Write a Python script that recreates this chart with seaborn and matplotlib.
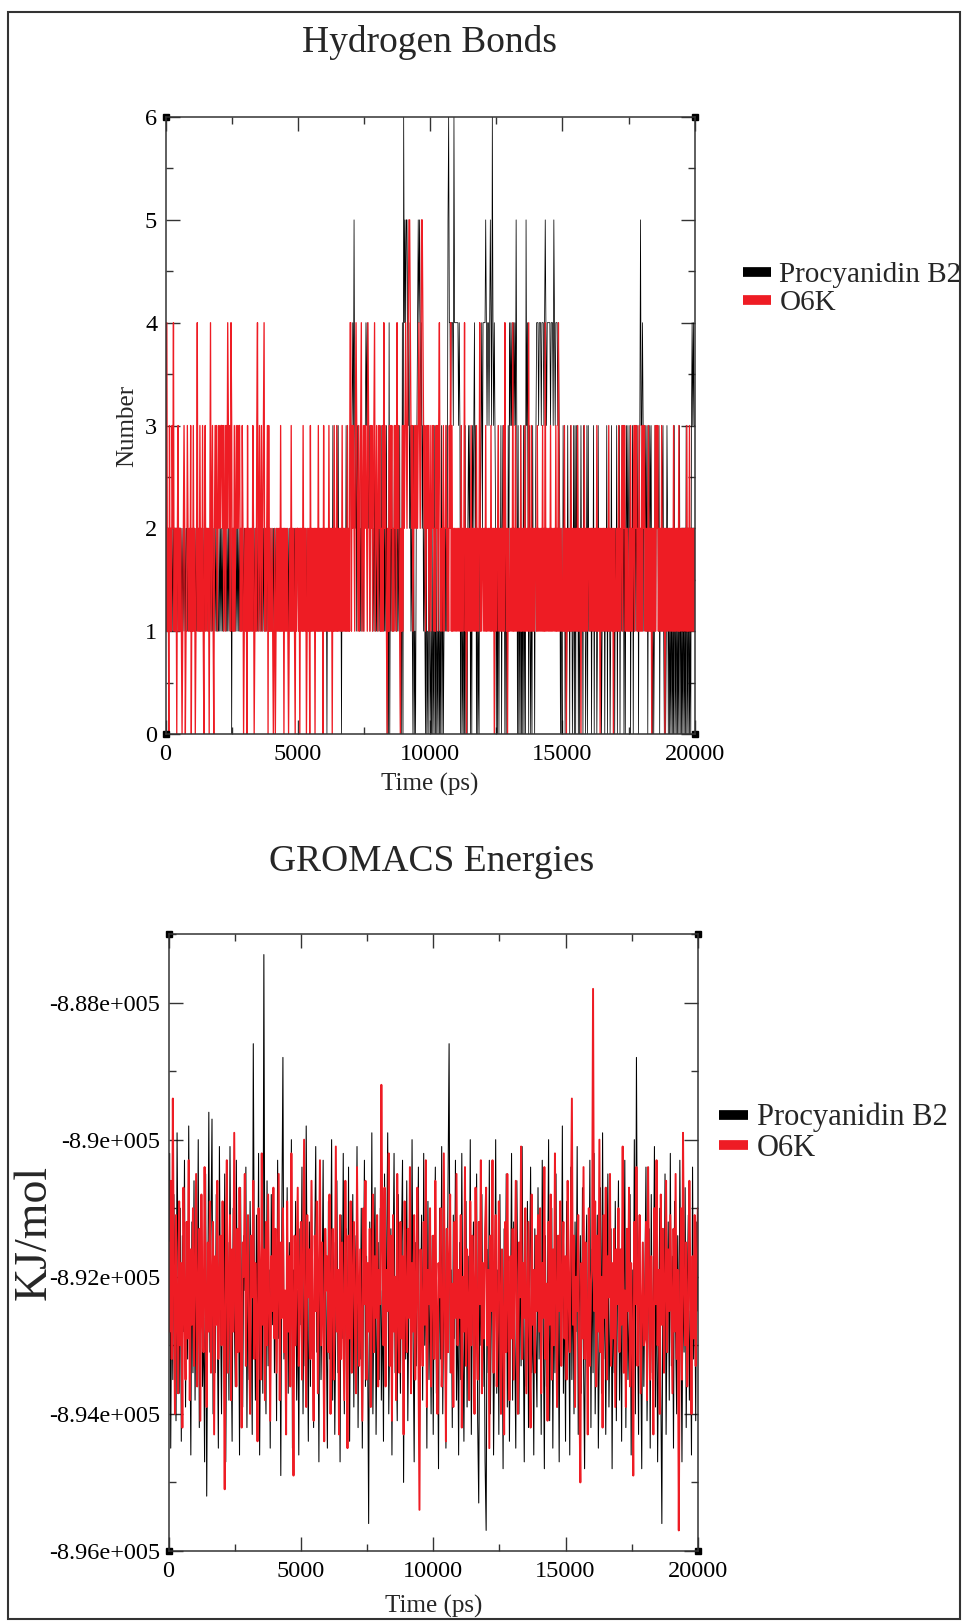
import numpy as np
import pandas as pd
import matplotlib
matplotlib.use("Agg")
import matplotlib.pyplot as plt
import seaborn as sns
from matplotlib.lines import Line2D
from matplotlib.patches import Rectangle
from matplotlib.ticker import MultipleLocator, FuncFormatter

# Hydrogen bond counts, one digit per 25 ps, 40 digits per 1000 ps
hbond_pb2_blocks = [
    "1212121221212121212112121212121221212121", "2121212121212121212121212121212121212121",
    "1212121212121212121202121212121212121212", "2121212121212121212121212121212121212121",
    "1212121212121212121212121212121212121212", "2121212121212121212121212121212121212121",
    "1212021212121312121313121202121213121213", "3234353231323121312132343432313231213121",
    "2131213121312130204021312131213121302040", "6454554342312103010234545434231210301021",
    "0102010302010201030201213125644344436444", "4443430301020301023230203234230201032342",
    "4444543443454364343202030213023120302031", "4343434343530302030203020534203102031202",
    "3444344434443454344444344435434443432020", "0313020131203120130303130201312031201303",
    "1212021302120131212012120213021201312120", "2130213021313030231321302130213131302353",
    "3431323130213231020131323130213231020132", "02010201030102010302010201030102010343433",
]
hbond_o6k_blocks = [
    "4141203121324121202312121012320113212130", "2131201241213121310231221202412310232312",
    "3232332312313243231431213123232331213201", "2120312121213201213412312312341212303121",
    "1210120121212131212021212101213121210212", "2120212131212012120312121202121312121203",
    "1212121312120213121312121213121212131214", "4132321343213123412313232143213231234123",
    "2132312131423210213132312132314232102131", "3234323455432312323232343235543231232312",
    "3123231213231342121231223212132413121212", "1212121312124120212121312121213121241212",
    "2121312121213121202121231212121314212021", "1212141213121212131212131212141213121212",
    "2131212121312141212121312121213121412121", "1213120212121312121212131212021213121212",
    "2121212121213121202121212121213121212021", "1212131212313231212112131212313231213121",
    "3132312121312120212131323121213121202121", "21212121312121213121212121213121312121212",
]

# Energies, in units of 100 kJ/mol, one value per 40 ps (25 per 1000 ps)
energy_pb2 = [
    -8930, -8902, -8945, -8918, -8935, -8908, -8926, -8941, -8899, -8921, -8937, -8910, -8944, -8914, -8928, -8903, -8939, -8919, -8932, -8898, -8925, -8946, -8912, -8934, -8906,
    -8938, -8916, -8929, -8900, -8942, -8920, -8911, -8936, -8926, -8947, -8905, -8952, -8923, -8896, -8931, -8913, -8897, -8940, -8919, -8934, -8908, -8927, -8945, -8901, -8924,
    -8940, -8912, -8933, -8905, -8947, -8921, -8915, -8938, -8901, -8928, -8944, -8910, -8925, -8936, -8903, -8931, -8918, -8946, -8907, -8929, -8939, -8914, -8922, -8904, -8942,
    -8917, -8935, -8909, -8926, -8943, -8886, -8920, -8938, -8911, -8930, -8902, -8946, -8924, -8915, -8937, -8873, -8928, -8940, -8906, -8933, -8919, -8945, -8908, -8927, -8912,
    -8934, -8916, -8941, -8903, -8929, -8920, -8949, -8911, -8888, -8932, -8924, -8943, -8907, -8937, -8915, -8926, -8900, -8945, -8919, -8930, -8909, -8938, -8922, -8946, -8913,
    -8927, -8904, -8940, -8918, -8933, -8898, -8925, -8944, -8912, -8936, -8906, -8929, -8942, -8916, -8901, -8931, -8920, -8947, -8910, -8935, -8923, -8903, -8939, -8914, -8928,
    -8945, -8909, -8932, -8921, -8900, -8938, -8915, -8943, -8926, -8906, -8934, -8919, -8947, -8911, -8929, -8902, -8940, -8923, -8913, -8936, -8904, -8944, -8917, -8930, -8908,
    -8939, -8914, -8927, -8901, -8942, -8920, -8932, -8910, -8945, -8924, -8903, -8936, -8917, -8929, -8956, -8912, -8933, -8899, -8940, -8921, -8907, -8943, -8926, -8915, -8935,
    -8910, -8938, -8922, -8944, -8905, -8931, -8917, -8899, -8940, -8926, -8913, -8946, -8920, -8902, -8934, -8928, -8941, -8908, -8924, -8937, -8915, -8903, -8950, -8919, -8932,
    -8906, -8941, -8923, -8912, -8936, -8900, -8929, -8947, -8915, -8933, -8920, -8904, -8944, -8926, -8911, -8938, -8902, -8930, -8918, -8945, -8909, -8935, -8922, -8940, -8914,
    -8943, -8918, -8904, -8937, -8925, -8948, -8910, -8932, -8901, -8940, -8921, -8913, -8945, -8927, -8906, -8886, -8934, -8919, -8942, -8911, -8929, -8903, -8938, -8924, -8946,
    -8915, -8935, -8902, -8928, -8944, -8920, -8909, -8939, -8917, -8931, -8900, -8943, -8923, -8912, -8937, -8926, -8905, -8941, -8953, -8918, -8930, -8908, -8936, -8921, -8947,
    -8957, -8916, -8934, -8903, -8940, -8924, -8911, -8946, -8929, -8900, -8937, -8919, -8943, -8908, -8932, -8922, -8948, -8913, -8927, -8905, -8939, -8917, -8944, -8926, -8902,
    -8938, -8912, -8930, -8945, -8906, -8923, -8940, -8915, -8933, -8901, -8927, -8947, -8918, -8936, -8909, -8942, -8921, -8904, -8934, -8925, -8946, -8913, -8929, -8939, -8907,
    -8932, -8917, -8943, -8903, -8928, -8948, -8914, -8936, -8922, -8900, -8941, -8926, -8910, -8945, -8919, -8934, -8905, -8939, -8924, -8947, -8912, -8930, -8898, -8937, -8920,
    -8944, -8909, -8931, -8923, -8946, -8904, -8935, -8918, -8940, -8912, -8928, -8901, -8943, -8925, -8914, -8937, -8907, -8932, -8948, -8920, -8911, -8939, -8926, -8903, -8942,
    -8916, -8934, -8902, -8940, -8925, -8911, -8945, -8929, -8907, -8937, -8899, -8932, -8918, -8943, -8922, -8905, -8939, -8927, -8913, -8948, -8920, -8934, -8909, -8941, -8924,
    -8906, -8938, -8921, -8944, -8912, -8930, -8903, -8942, -8917, -8935, -8926, -8908, -8946, -8919, -8933, -8900, -8940, -8888, -8925, -8943, -8911, -8929, -8948, -8915, -8936,
    -8920, -8904, -8941, -8927, -8913, -8945, -8908, -8934, -8923, -8901, -8939, -8916, -8947, -8929, -8910, -8936, -8956, -8919, -8931, -8905, -8943, -8924, -8912, -8938, -8902,
    -8933, -8917, -8945, -8909, -8928, -8940, -8914, -8936, -8903, -8926, -8947, -8919, -8931, -8907, -8942, -8922, -8911, -8938, -8925, -8946, -8904, -8932, -8918, -8941, -8912, -8925,
]
energy_o6k = [
    -8915, -8928, -8906, -8932, -8894, -8921, -8940, -8911, -8925, -8937, -8909, -8930, -8918, -8942, -8907, -8924, -8935, -8912, -8929, -8903, -8938, -8916, -8927, -8910, -8933,
    -8919, -8905, -8936, -8922, -8913, -8941, -8908, -8926, -8931, -8904, -8923, -8939, -8915, -8928, -8909, -8934, -8920, -8912, -8943, -8917, -8927, -8906, -8932, -8921, -8914,
    -8930, -8909, -8925, -8951, -8918, -8903, -8934, -8922, -8911, -8938, -8916, -8928, -8899, -8924, -8936, -8913, -8931, -8907, -8927, -8942, -8915, -8920, -8905, -8933, -8919,
    -8911, -8929, -8940, -8914, -8923, -8906, -8932, -8918, -8926, -8944, -8910, -8921, -8935, -8902, -8927, -8916, -8938, -8912, -8930, -8908, -8924, -8941, -8917, -8925, -8907,
    -8929, -8913, -8934, -8920, -8905, -8938, -8915, -8926, -8910, -8931, -8922, -8943, -8909, -8928, -8917, -8936, -8902, -8924, -8949, -8914, -8930, -8919, -8907, -8933, -8921,
    -8912, -8935, -8918, -8900, -8927, -8939, -8911, -8923, -8916, -8932, -8906, -8928, -8941, -8914, -8925, -8909, -8937, -8920, -8903, -8930, -8915, -8926, -8944, -8913, -8922,
    -8917, -8931, -8908, -8940, -8921, -8913, -8935, -8925, -8901, -8928, -8919, -8943, -8911, -8932, -8915, -8926, -8938, -8906, -8923, -8945, -8914, -8929, -8909, -8934, -8920,
    -8912, -8927, -8937, -8904, -8921, -8933, -8916, -8929, -8941, -8910, -8924, -8906, -8935, -8918, -8928, -8913, -8939, -8922, -8908, -8931, -8917, -8926, -8911, -8936, -8919,
    -8924, -8892, -8915, -8930, -8907, -8936, -8919, -8925, -8902, -8933, -8914, -8941, -8911, -8928, -8920, -8938, -8905, -8926, -8934, -8912, -8929, -8917, -8943, -8909, -8923,
    -8931, -8913, -8926, -8904, -8937, -8918, -8928, -8911, -8935, -8922, -8907, -8930, -8954, -8916, -8925, -8933, -8912, -8927, -8903, -8939, -8919, -8924, -8910, -8936, -8921,
    -8914, -8932, -8906, -8927, -8940, -8918, -8923, -8910, -8936, -8929, -8902, -8925, -8944, -8913, -8931, -8917, -8908, -8934, -8921, -8939, -8912, -8926, -8905, -8930, -8919,
    -8926, -8911, -8942, -8920, -8928, -8904, -8933, -8916, -8925, -8938, -8909, -8930, -8914, -8922, -8940, -8907, -8927, -8935, -8912, -8924, -8903, -8937, -8918, -8929, -8913,
    -8907, -8930, -8919, -8945, -8914, -8925, -8903, -8934, -8921, -8911, -8936, -8928, -8909, -8922, -8940, -8916, -8927, -8943, -8912, -8931, -8905, -8924, -8938, -8917, -8929,
    -8913, -8935, -8920, -8906, -8928, -8940, -8915, -8923, -8901, -8932, -8918, -8926, -8910, -8937, -8924, -8912, -8931, -8942, -8908, -8927, -8919, -8934, -8914, -8925, -8911,
    -8928, -8910, -8937, -8918, -8926, -8904, -8932, -8921, -8941, -8912, -8927, -8908, -8935, -8916, -8930, -8902, -8923, -8939, -8914, -8925, -8909, -8933, -8920, -8912, -8929,
    -8917, -8935, -8906, -8923, -8931, -8913, -8894, -8927, -8914, -8939, -8920, -8925, -8911, -8936, -8950, -8918, -8929, -8904, -8932, -8915, -8926, -8943, -8910, -8933, -8921,
    -8919, -8878, -8925, -8909, -8936, -8914, -8928, -8900, -8931, -8920, -8942, -8911, -8926, -8907, -8935, -8917, -8923, -8905, -8933, -8918, -8929, -8913, -8939, -8916, -8924,
    -8910, -8931, -8916, -8927, -8901, -8934, -8922, -8939, -8913, -8925, -8907, -8936, -8918, -8929, -8949, -8912, -8924, -8904, -8933, -8920, -8911, -8937, -8926, -8915, -8930,
    -8929, -8912, -8938, -8904, -8921, -8935, -8917, -8926, -8943, -8910, -8924, -8903, -8930, -8919, -8940, -8908, -8927, -8913, -8934, -8922, -8906, -8931, -8916, -8925, -8911,
    -8924, -8937, -8913, -8928, -8905, -8932, -8919, -8957, -8926, -8910, -8935, -8899, -8921, -8930, -8915, -8936, -8927, -8906, -8922, -8940, -8917, -8929, -8911, -8933, -8918, -8910,
]

series_names = ["Procyanidin B2", "O6K"]
series_colors = ["#000000", "#ee1c24"]
hb_widths = [0.55, 0.95]
en_widths = [0.75, 1.4]

hb_pb2 = [int(c) for c in "".join(hbond_pb2_blocks)]
hb_o6k = [int(c) for c in "".join(hbond_o6k_blocks)]
hb_df = pd.DataFrame({
    "time": np.concatenate([np.linspace(0, 20000, len(hb_pb2)), np.linspace(0, 20000, len(hb_o6k))]),
    "value": hb_pb2 + hb_o6k,
    "series": [series_names[0]] * len(hb_pb2) + [series_names[1]] * len(hb_o6k),
})
en_df = pd.DataFrame({
    "time": np.concatenate([np.linspace(0, 20000, len(energy_pb2)), np.linspace(0, 20000, len(energy_o6k))]),
    "value": np.array(energy_pb2 + energy_o6k) * 100.0,
    "series": [series_names[0]] * len(energy_pb2) + [series_names[1]] * len(energy_o6k),
})

sns.set_style("ticks")
plt.rcParams["font.family"] = ["Liberation Serif", "DejaVu Serif"]

fig = plt.figure(figsize=(9.64, 16.21), dpi=100)
ax1 = fig.add_axes([0.1717, 0.5472, 0.549, 0.3806])
ax2 = fig.add_axes([0.1749, 0.0432, 0.549, 0.3806])

for ax, df, widths in [(ax1, hb_df, hb_widths), (ax2, en_df, en_widths)]:
    for name, col, w in zip(series_names, series_colors, widths):
        sns.lineplot(data=df[df["series"] == name], x="time", y="value", color=col,
                     lw=w, estimator=None, ax=ax, legend=False)
    ax.set_xlim(0, 20000)
    ax.xaxis.set_major_locator(MultipleLocator(5000))
    ax.xaxis.set_minor_locator(MultipleLocator(2500))
    ax.tick_params(which="both", direction="in", top=True, right=True, colors="#333333",
                   labelcolor="black", width=1, labelsize=17.5)
    ax.tick_params(which="major", length=10)
    ax.tick_params(which="minor", length=5)
    ax.tick_params(axis="x", pad=7)
    ax.tick_params(axis="y", pad=6)
    for s in ax.spines.values():
        s.set_color("#333333")
        s.set_linewidth(1.1)
    # xmgrace-style corner blocks
    ax.plot([0, 1, 0, 1], [0, 0, 1, 1], "s", color="black", ms=5,
            transform=ax.transAxes, clip_on=False)

ax1.set_ylim(0, 6)
ax1.yaxis.set_major_locator(MultipleLocator(1))
ax1.yaxis.set_minor_locator(MultipleLocator(0.5))
ax1.set_xlabel("Time (ps)", fontsize=18)
ax1.set_ylabel("Number", fontsize=18)
ax1.xaxis.set_label_coords(0.5, -0.0625)
ax1.yaxis.set_label_coords(-0.052, 0.5)

ax2.set_ylim(-896000, -887000)
ax2.yaxis.set_major_locator(MultipleLocator(2000))
ax2.yaxis.set_minor_locator(MultipleLocator(1000))
ax2.yaxis.set_major_formatter(FuncFormatter(lambda v, p: f"{v / 1e5:.3g}e+005"))
ax2.set_xlabel("Time (ps)", fontsize=18)
ax2.set_ylabel("KJ/mol", fontsize=33)
ax2.xaxis.set_label_coords(0.5, -0.0705)
ax2.yaxis.set_label_coords(-0.213, 0.516)

fig.text(429 / 964, 1 - 43 / 1621, "Hydrogen Bonds", ha="center", va="center", fontsize=27)
fig.text(432 / 964, 1 - 862 / 1621, "GROMACS Energies", ha="center", va="center", fontsize=27)

handles = [Line2D([], [], color=c, lw=7, solid_capstyle="butt") for c in series_colors]
ax1.legend(handles, series_names, loc="center left", bbox_to_anchor=(743 / 964, 1 - 289 / 1621),
           bbox_transform=fig.transFigure, frameon=False, fontsize=21, handlelength=0.95,
           handletextpad=0.3, labelspacing=0.05, borderpad=0, borderaxespad=0)
ax2.legend(handles, series_names, loc="center left", bbox_to_anchor=(719 / 964, 1 - 1133 / 1621),
           bbox_transform=fig.transFigure, frameon=False, fontsize=22, handlelength=0.95,
           handletextpad=0.3, labelspacing=0.05, borderpad=0, borderaxespad=0)

fig.patches.append(Rectangle((8 / 964, 0.001), 0.988, 1 - 12 / 1621 - 0.001, transform=fig.transFigure,
                             fill=False, edgecolor="#333333", lw=1.5))

fig.savefig("out.png", dpi=100)
